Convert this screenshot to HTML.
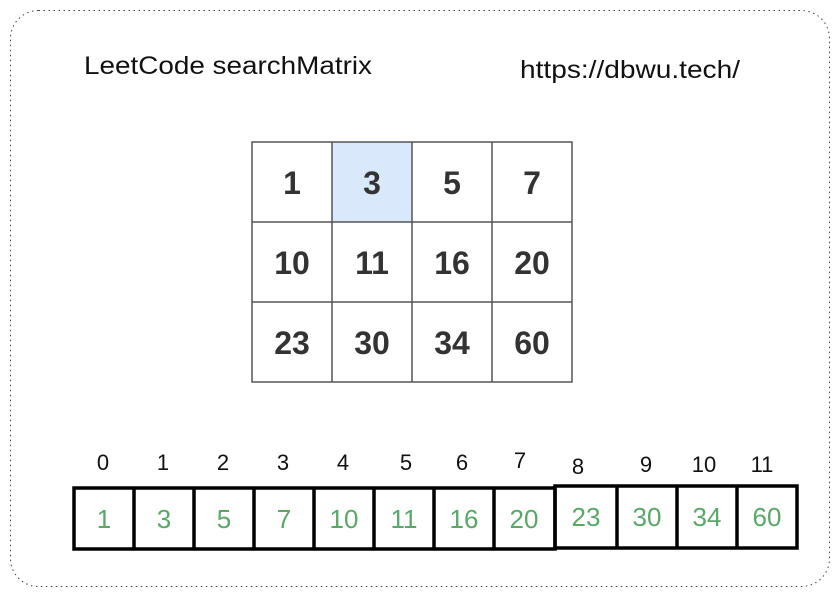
<!DOCTYPE html>
<html><head><style>
body{margin:0;width:840px;height:597px;background:#fff;overflow:hidden}
</style></head><body>
<svg width="840" height="597" xmlns="http://www.w3.org/2000/svg" font-family="Liberation Sans, sans-serif">
<rect x="10.5" y="10.5" width="819" height="576" rx="28" fill="#fff" stroke="#444" stroke-dasharray="1.5,3.5" stroke-width="1"/>
<text x="84" y="74" font-size="25" fill="#111" textLength="288" lengthAdjust="spacingAndGlyphs">LeetCode searchMatrix</text>
<text x="520" y="78" font-size="25" fill="#111" textLength="220" lengthAdjust="spacingAndGlyphs">https://dbwu.tech/</text>
<rect x="332" y="142" width="80" height="80" fill="#dae8fc"/>
<g stroke="#555" stroke-width="1.5" fill="none">
<rect x="252" y="142" width="320" height="240"/>
<line x1="332" y1="142" x2="332" y2="382"/><line x1="412" y1="142" x2="412" y2="382"/><line x1="492" y1="142" x2="492" y2="382"/>
<line x1="252" y1="222" x2="572" y2="222"/><line x1="252" y1="302" x2="572" y2="302"/>
</g>
<g font-size="32" font-weight="bold" fill="#333" text-anchor="middle">
<text x="292" y="194">1</text><text x="372" y="194">3</text><text x="452" y="194">5</text><text x="532" y="194">7</text>
<text x="292" y="274">10</text><text x="372" y="274">11</text><text x="452" y="274">16</text><text x="532" y="274">20</text>
<text x="292" y="354">23</text><text x="372" y="354">30</text><text x="452" y="354">34</text><text x="532" y="354">60</text>
</g>
<g font-size="22" fill="#111" text-anchor="middle">
<text x="103" y="470">0</text><text x="163" y="470">1</text><text x="223" y="470">2</text><text x="283" y="470">3</text>
<text x="343" y="470">4</text><text x="406" y="470">5</text><text x="462" y="470">6</text><text x="520" y="468">7</text>
<text x="578" y="474">8</text><text x="646" y="472">9</text><text x="704" y="472">10</text><text x="762" y="472">11</text>
</g>
<g stroke="#000" stroke-width="3.5" fill="none">
<rect x="74" y="488" width="481" height="61"/>
<rect x="555" y="486" width="242" height="62"/>
<line x1="134" y1="488" x2="134" y2="549"/><line x1="194" y1="488" x2="194" y2="549"/><line x1="254" y1="488" x2="254" y2="549"/>
<line x1="314" y1="488" x2="314" y2="549"/><line x1="374" y1="488" x2="374" y2="549"/><line x1="434" y1="488" x2="434" y2="549"/>
<line x1="494" y1="488" x2="494" y2="549"/>
<line x1="617" y1="486" x2="617" y2="548"/><line x1="677" y1="486" x2="677" y2="548"/><line x1="737" y1="486" x2="737" y2="548"/>
</g>
<g font-size="26" fill="#5aa867" text-anchor="middle">
<text x="104" y="528">1</text><text x="164" y="528">3</text><text x="224" y="528">5</text><text x="284" y="528">7</text>
<text x="344" y="528">10</text><text x="404" y="528">11</text><text x="464" y="528">16</text><text x="524" y="528">20</text>
<text x="586" y="526">23</text><text x="647" y="526">30</text><text x="707" y="526">34</text><text x="767" y="526">60</text>
</g>
</svg>
</body></html>
